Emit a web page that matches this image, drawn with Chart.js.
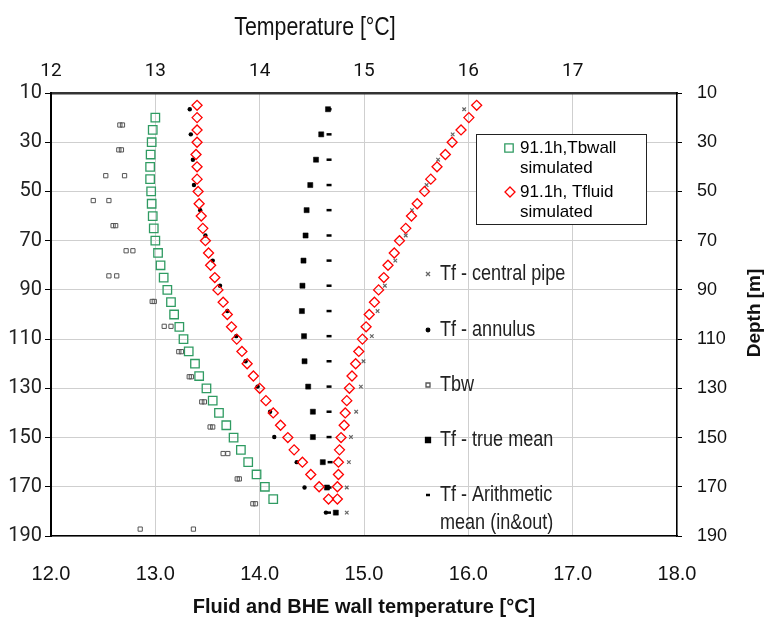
<!DOCTYPE html>
<html>
<head>
<meta charset="utf-8">
<script src="https://cdn.jsdelivr.net/npm/chart.js@4/dist/chart.umd.min.js"></script>
<style>
  body { margin: 0; background: #fff; }
  #wrap { width: 770px; height: 626px; }
</style>
</head>
<body>
<div id="wrap"><canvas id="depthChart" width="770" height="626"></canvas></div>
<script>
// Simulated profiles (91.1 h)
const tbwallDepth = [20, 25, 30, 35, 40, 45, 50, 55, 60, 65, 70, 75, 80, 85, 90, 95, 100, 105, 110, 115, 120, 125, 130, 135, 140, 145, 150, 155, 160, 165, 170, 175];
const tbwallTemp = [13.00, 12.975, 12.965, 12.955, 12.95, 12.95, 12.96, 12.965, 12.975, 12.985, 13.00, 13.026, 13.05, 13.08, 13.115, 13.15, 13.18, 13.23, 13.27, 13.32, 13.38, 13.42, 13.49, 13.55, 13.61, 13.68, 13.75, 13.82, 13.89, 13.97, 14.05, 14.13];

// fluid: down the annulus, then back up the central pipe
const fluidDepth = [15, 20, 25, 30, 35, 40, 45, 50, 55, 60, 65, 70, 75, 80, 85, 90, 95, 100, 105, 110, 115, 120, 125, 130, 135, 140, 145, 150, 155, 160, 165, 170, 175,
  175, 170, 165, 160, 155, 150, 145, 140, 135, 130, 125, 120, 115, 110, 105, 100, 95, 90, 85, 80, 75, 70, 65, 60, 55, 50, 45, 40, 35, 30, 25, 20, 15];
const fluidTemp = [13.40, 13.40, 13.40, 13.40, 13.39, 13.40, 13.40, 13.41, 13.42, 13.44, 13.455, 13.48, 13.51, 13.53, 13.57, 13.60, 13.65, 13.69, 13.73, 13.78, 13.83, 13.88, 13.94, 14.00, 14.06, 14.13, 14.20, 14.27, 14.33, 14.41, 14.49, 14.57, 14.66,
  14.745, 14.745, 14.755, 14.755, 14.765, 14.78, 14.81, 14.82, 14.835, 14.86, 14.885, 14.92, 14.95, 14.985, 15.02, 15.05, 15.10, 15.14, 15.19, 15.23, 15.29, 15.34, 15.40, 15.455, 15.51, 15.58, 15.64, 15.70, 15.78, 15.845, 15.93, 16.005, 16.08];

// Measured profiles
const measDepth = [16.6, 26.8, 37.1, 47.4, 57.6, 67.9, 78.1, 88.3, 98.6, 108.8, 119.0, 129.3, 139.5, 149.8, 160.0, 170.3, 180.5];
const centralPipe = [15.96, 15.85, 15.71, 15.60, 15.46, 15.40, 15.30, 15.20, 15.13, 15.075, 14.995, 14.97, 14.925, 14.875, 14.855, 14.835, 14.835];
const annulus = [13.33, 13.34, 13.36, 13.37, 13.43, 13.48, 13.55, 13.62, 13.69, 13.775, 13.865, 13.98, 14.10, 14.14, 14.355, 14.43, 14.635];
const trueMean = [14.655, 14.59, 14.54, 14.485, 14.45, 14.44, 14.42, 14.41, 14.405, 14.425, 14.43, 14.465, 14.51, 14.51, 14.605, 14.645, 14.73];
const arithMean = [14.665, 14.665, 14.665, 14.665, 14.665, 14.665, 14.665, 14.665, 14.665, 14.665, 14.665, 14.665, 14.665, 14.665, 14.675, 14.665, 14.66];

// Borehole wall, two readings per level
const tbwDepth = [23.0, 33.1, 43.6, 53.7, 63.9, 74.1, 84.3, 94.7, 104.8, 115.1, 125.3, 135.5, 145.7, 156.5, 166.8, 176.9, 187.2];
const tbwA = [12.66, 12.65, 12.525, 12.405, 12.595, 12.72, 12.555, 12.97, 13.085, 13.225, 13.325, 13.445, 13.525, 13.65, 13.785, 13.935, 12.855];
const tbwB = [12.685, 12.675, 12.705, 12.555, 12.62, 12.785, 12.63, 12.99, 13.15, 13.25, 13.345, 13.47, 13.55, 13.695, 13.805, 13.96, 13.365];

const arial = "'Liberation Sans', Arial, sans-serif";
const roboto = "Roboto, 'Liberation Sans', sans-serif";

function toPoints(xs, ys) {
  return xs.map((x, i) => ({ x: x, y: ys[i] }));
}

// no narrow font installed, so squeeze Arial horizontally
function narrowText(ctx, text, x, y, sx) {
  ctx.save();
  ctx.translate(x, y);
  ctx.scale(sx, 1);
  ctx.fillText(text, 0, 0);
  ctx.restore();
}

// Legend marker helper
function marker(ctx, style, x, y, r, stroke, fill) {
  ctx.save();
  ctx.strokeStyle = stroke;
  ctx.fillStyle = fill;
  ctx.lineWidth = 1.3;
  ctx.beginPath();
  if (style === 'rect') {
    ctx.rect(x - r, y - r, 2 * r, 2 * r);
  } else if (style === 'diamond') {
    ctx.moveTo(x, y - r); ctx.lineTo(x + r, y); ctx.lineTo(x, y + r); ctx.lineTo(x - r, y); ctx.closePath();
  } else if (style === 'circle') {
    ctx.arc(x, y, r, 0, Math.PI * 2);
  } else if (style === 'cross') {
    ctx.moveTo(x - r, y - r); ctx.lineTo(x + r, y + r);
    ctx.moveTo(x + r, y - r); ctx.lineTo(x - r, y + r);
  } else if (style === 'dash') {
    ctx.lineWidth = 2.5;
    ctx.moveTo(x - r, y); ctx.lineTo(x + r, y);
  }
  if (fill !== 'none') ctx.fill();
  ctx.stroke();
  ctx.restore();
}

const decorPlugin = {
  id: 'decor',
  afterDraw(chart) {
    const ctx = chart.ctx;
    ctx.save();
    ctx.fillStyle = '#111';
    ctx.textBaseline = 'middle';

    // axis titles
    ctx.textAlign = 'center';
    ctx.font = '26px ' + arial;
    narrowText(ctx, 'Temperature [°C]', 315, 28, 0.82);
    ctx.font = 'bold 20px ' + arial;
    ctx.fillText('Fluid and BHE wall temperature [°C]', 364, 607);
    ctx.save();
    ctx.translate(755, 313);
    ctx.rotate(-Math.PI / 2);
    ctx.font = 'bold 19px ' + arial;
    ctx.fillText('Depth [m]', 0, 0);
    ctx.restore();

    // boxed legend for simulated curves
    ctx.fillStyle = '#fff';
    ctx.fillRect(476, 134, 170, 90);
    ctx.strokeStyle = '#222';
    ctx.lineWidth = 1;
    ctx.strokeRect(476.5, 134.5, 170, 90);
    marker(ctx, 'rect', 509, 148, 4.2, '#2f9b62', 'none');
    marker(ctx, 'diamond', 510, 192, 5, '#ff0000', 'none');
    ctx.fillStyle = '#000';
    ctx.textAlign = 'left';
    ctx.font = '17px ' + arial;
    ctx.fillText('91.1h,Tbwall', 520, 148);
    ctx.fillText('simulated', 520, 168);
    ctx.fillText('91.1h, Tfluid', 520, 192);
    ctx.fillText('simulated', 520, 212);

    // free legend for measured curves
    marker(ctx, 'cross', 428, 274, 2, '#666', 'none');
    marker(ctx, 'circle', 428, 330, 1.8, '#000', '#000');
    marker(ctx, 'rect', 428, 385, 2, '#555', 'none');
    marker(ctx, 'rect', 428, 440, 2.5, '#000', '#000');
    marker(ctx, 'dash', 428, 495, 2, '#000', 'none');
    ctx.fillStyle = '#222';
    ctx.font = '22px ' + arial;
    narrowText(ctx, 'Tf - central pipe', 440, 274, 0.82);
    narrowText(ctx, 'Tf - annulus', 440, 330, 0.82);
    narrowText(ctx, 'Tbw', 440, 385, 0.82);
    narrowText(ctx, 'Tf - true mean', 440, 440, 0.82);
    narrowText(ctx, 'Tf - Arithmetic', 440, 495, 0.82);
    narrowText(ctx, 'mean (in&out)', 440, 523, 0.82);
    ctx.restore();
  }
};

new Chart(document.getElementById('depthChart'), {
  type: 'scatter',
  data: {
    datasets: [
      {
        label: '91.1h,Tbwall simulated',
        data: toPoints(tbwallTemp, tbwallDepth),
        pointStyle: 'rect', pointRadius: 6,
        borderColor: '#2f9b62', backgroundColor: 'rgba(0,0,0,0)', borderWidth: 1.3
      },
      {
        label: '91.1h, Tfluid simulated',
        data: toPoints(fluidTemp, fluidDepth),
        pointStyle: 'rectRot', pointRadius: 5,
        borderColor: '#ff0000', backgroundColor: 'rgba(0,0,0,0)', borderWidth: 1.3
      },
      {
        label: 'Tf - central pipe',
        data: toPoints(centralPipe, measDepth),
        pointStyle: 'crossRot', pointRadius: 2.5,
        borderColor: '#666', backgroundColor: '#666', borderWidth: 1.2
      },
      {
        label: 'Tf - annulus',
        data: toPoints(annulus, measDepth),
        pointStyle: 'circle', pointRadius: 2.2,
        borderColor: '#000', backgroundColor: '#000', borderWidth: 0
      },
      {
        label: 'Tbw',
        data: toPoints(tbwA, tbwDepth).concat(toPoints(tbwB, tbwDepth)),
        pointStyle: 'rect', pointRadius: 3,
        borderColor: '#555', backgroundColor: 'rgba(0,0,0,0)', borderWidth: 1
      },
      {
        label: 'Tf - true mean',
        data: toPoints(trueMean, measDepth),
        pointStyle: 'rect', pointRadius: 3.6,
        borderColor: '#000', backgroundColor: '#000', borderWidth: 0.5
      },
      {
        label: 'Tf - Arithmetic mean (in&out)',
        data: toPoints(arithMean, measDepth),
        pointStyle: 'line', pointRadius: 2.5,
        borderColor: '#000', backgroundColor: '#000', borderWidth: 2.5
      }
    ]
  },
  options: {
    responsive: false,
    animation: false,
    layout: { padding: 0 },
    plugins: {
      legend: { display: false },
      tooltip: { enabled: false }
    },
    scales: {
      x: {
        type: 'linear', position: 'bottom', min: 12, max: 18,
        afterFit: (s) => { s.height = 90; },
        ticks: { stepSize: 1, padding: 26, color: '#111', font: { family: arial, size: 20 }, callback: (v) => v.toFixed(1) },
        grid: { color: '#cfcfcf', drawTicks: false },
        border: { color: '#000', width: 1.5 }
      },
      x2: {
        type: 'linear', position: 'top', min: 12, max: 18,
        afterFit: (s) => { s.height = 93; },
        ticks: { stepSize: 1, padding: 10, color: '#111', font: { family: roboto, size: 19 }, callback: (v) => (v === 18 ? '' : v) },
        grid: { drawOnChartArea: false, drawTicks: false },
        border: { color: '#333', width: 2.5 }
      },
      y: {
        type: 'linear', position: 'left', reverse: true, min: 10, max: 190,
        afterFit: (s) => { s.width = 51; },
        ticks: { stepSize: 20, padding: 3, color: '#222', font: { family: roboto, size: 20 } },
        grid: { color: '#cfcfcf', tickColor: '#000', tickLength: 6 },
        border: { color: '#000', width: 2 }
      },
      y2: {
        type: 'linear', position: 'right', reverse: true, min: 10, max: 190,
        afterFit: (s) => { s.width = 93; },
        ticks: { stepSize: 20, padding: 15, color: '#111', font: { family: arial, size: 18 } },
        grid: { drawOnChartArea: false, tickColor: '#000', tickLength: 5 },
        border: { color: '#000', width: 1.5 }
      }
    }
  },
  plugins: [decorPlugin]
});
</script>
</body>
</html>
